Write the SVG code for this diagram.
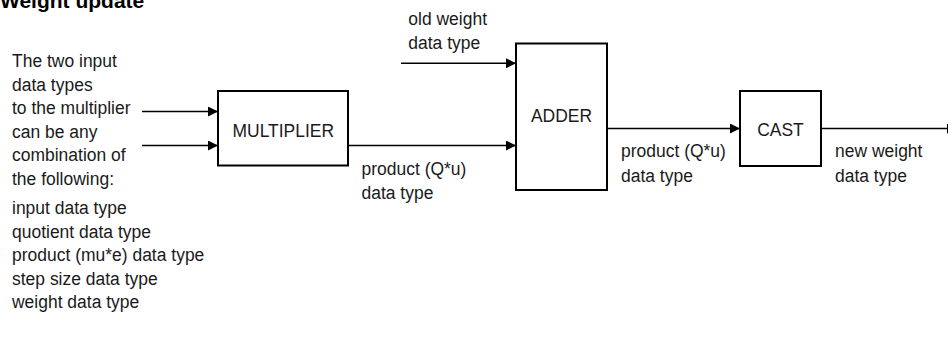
<svg xmlns="http://www.w3.org/2000/svg" width="948" height="338" viewBox="0 0 948 338">
<style>
  text { font-family: "Liberation Sans", Arial, sans-serif; font-size: 19px; fill: #1a1a1a; }
  .title { font-weight: bold; font-size: 21px; fill: #000; }
  .box { fill: #fff; stroke: #000; stroke-width: 2; }
  .lbl { text-anchor: middle; }
  .conn { stroke: #000; stroke-width: 1.4; fill: none; }
</style>
<defs>
  <marker id="arr" markerUnits="userSpaceOnUse" markerWidth="11" markerHeight="10" refX="10" refY="5" orient="auto">
    <path d="M0,0 L10,5 L0,10 z" fill="#000"/>
  </marker>
</defs>
<rect width="948" height="338" fill="#fff"/>
<text class="title" x="0" y="7.5">Weight update</text>

<g id="inputs-note">
  <text transform="translate(12,67) scale(0.92,1)">The two input</text>
  <text transform="translate(12,90.5) scale(0.92,1)">data types</text>
  <text transform="translate(12,114) scale(0.92,1)">to the multiplier</text>
  <text transform="translate(12,137.5) scale(0.92,1)">can be any</text>
  <text transform="translate(12,161) scale(0.92,1)">combination of</text>
  <text transform="translate(12,184.5) scale(0.92,1)">the following:</text>
  <text transform="translate(12,214) scale(0.92,1)">input data type</text>
  <text transform="translate(12,237.5) scale(0.92,1)">quotient data type</text>
  <text transform="translate(12,261) scale(0.92,1)">product (mu*e) data type</text>
  <text transform="translate(12,284.5) scale(0.92,1)">step size data type</text>
  <text transform="translate(12,308) scale(0.92,1)">weight data type</text>
</g>

<g id="multiplier">
  <rect class="box" x="218" y="91" width="130" height="74.5"/>
  <text class="lbl" transform="translate(283.3,137.3) scale(0.92,1)">MULTIPLIER</text>
</g>

<g id="adder">
  <rect class="box" x="516" y="43.5" width="91" height="146.5"/>
  <text class="lbl" transform="translate(561.5,121.7) scale(0.92,1)">ADDER</text>
</g>

<g id="cast">
  <rect class="box" x="740" y="91" width="81" height="75"/>
  <text class="lbl" transform="translate(780.5,136) scale(0.92,1)">CAST</text>
</g>

<g id="connectors">
  <line class="conn" x1="142" y1="111.5" x2="218" y2="111.5" marker-end="url(#arr)"/>
  <line class="conn" x1="142" y1="145.5" x2="218" y2="145.5" marker-end="url(#arr)"/>
  <line class="conn" x1="401" y1="63.3" x2="516" y2="63.3" marker-end="url(#arr)"/>
  <line class="conn" x1="348" y1="145.5" x2="516" y2="145.5" marker-end="url(#arr)"/>
  <line class="conn" x1="607" y1="128.5" x2="740" y2="128.5" marker-end="url(#arr)"/>
  <line class="conn" x1="821" y1="128.5" x2="957" y2="128.5" marker-end="url(#arr)"/>
</g>

<g id="labels">
  <text transform="translate(408.3,25) scale(0.92,1)">old weight</text>
  <text transform="translate(408.3,49.3) scale(0.92,1)">data type</text>
  <text transform="translate(361.5,175) scale(0.92,1)">product (Q*u)</text>
  <text transform="translate(361.5,199) scale(0.92,1)">data type</text>
  <text transform="translate(621,157) scale(0.92,1)">product (Q*u)</text>
  <text transform="translate(621,181.5) scale(0.92,1)">data type</text>
  <text transform="translate(835,157) scale(0.92,1)">new weight</text>
  <text transform="translate(835,181.5) scale(0.92,1)">data type</text>
</g>
</svg>
